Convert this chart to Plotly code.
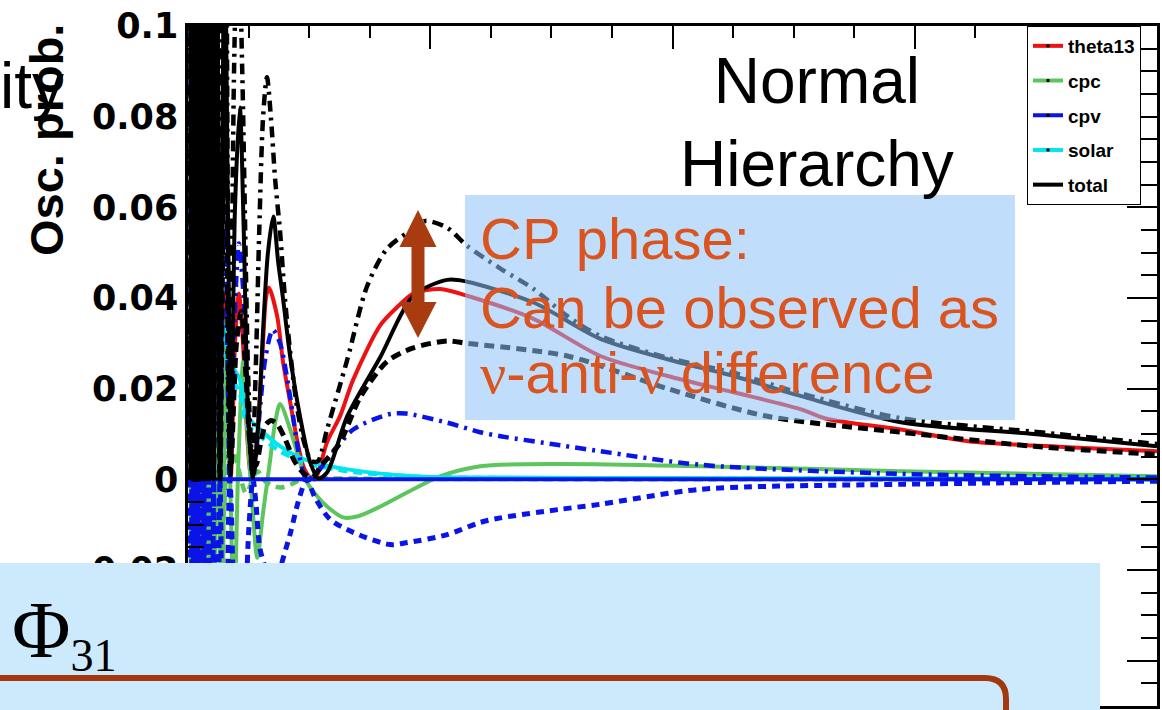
import plotly.graph_objects as go

# ---------------- oscillation-probability components vs. neutrino energy (GeV) ----------------
# theta13 term
theta13_E = [0.005, 0.0065, 0.008, 0.0095, 0.011, 0.0125, 0.014, 0.0155, 0.017, 0.0185,
             0.020, 0.021, 0.022, 0.023, 0.024, 0.025, 0.0265, 0.028, 0.029, 0.031, 0.033, 0.035,
             0.038, 0.041, 0.044, 0.048, 0.053, 0.059, 0.066, 0.076, 0.088, 0.097, 0.105, 0.113,
             0.122, 0.130, 0.138, 0.153, 0.161, 0.167, 0.184, 0.196, 0.211, 0.225, 0.238, 0.252,
             0.262, 0.287, 0.314, 0.341, 0.397, 0.432, 0.465, 0.521, 0.576, 0.713, 0.851, 0.990,
             1.126, 1.264, 1.320, 1.471, 1.610, 1.816, 2.000]
theta13_P = [0.000, 0.040, 0.000, 0.040, 0.000, 0.040, 0.000, 0.040, 0.000, 0.040,
             0.000, 0.039, 0.000, 0.039, 0.000, 0.040, 0.000, 0.040, 0.000, 0.040, 0.000, 0.041,
             0.000, 0.041, 0.000, 0.041, 0.000, 0.041, 0.000, 0.041, 0.000, 0.030, 0.041, 0.031,
             0.010, 0.001, 0.0038, 0.0265, 0.040, 0.0423, 0.036, 0.026, 0.017, 0.0088, 0.0029, 0.0004,
             0.000, 0.0082, 0.014, 0.022, 0.034, 0.038, 0.041, 0.042, 0.0405, 0.0354, 0.0272, 0.0228,
             0.0192, 0.0155, 0.0133, 0.011, 0.0084, 0.0071, 0.0062]

# CP-conserving interference term (cos(delta) = 1 solid, cos(delta) = 0 dashed)
cpc_E = [0.005, 0.0065, 0.008, 0.0095, 0.011, 0.0125, 0.014, 0.0155, 0.017, 0.0185,
         0.020, 0.021, 0.022, 0.023, 0.024, 0.025, 0.0265, 0.028, 0.029, 0.031, 0.033, 0.035,
         0.038, 0.041, 0.044, 0.048, 0.054, 0.061, 0.069, 0.080, 0.087, 0.095, 0.104, 0.114,
         0.124, 0.133, 0.143, 0.155, 0.169, 0.180, 0.190, 0.211, 0.231, 0.246, 0.267, 0.287,
         0.320, 0.349, 0.397, 0.465, 0.521, 0.603, 0.769, 1.058, 1.471, 2.000]
cpc_P = [-0.100, 0.100, -0.100, 0.100, -0.100, 0.100, -0.100, 0.090, -0.090, 0.090,
         -0.080, 0.090, -0.080, 0.080, -0.075, 0.075, -0.070, 0.070, -0.065, 0.065, -0.060, 0.060,
         -0.058, 0.056, -0.054, 0.052, -0.050, 0.046, -0.042, 0.036, 0.000, -0.030, 0.004, 0.026,
         0.008, -0.006, -0.0173, -0.0073, 0.0038, 0.0126, 0.0166, 0.011, 0.0038, -0.0007, -0.0038, -0.006,
         -0.0084, -0.0082, -0.006, -0.0022, 0.0007, 0.0029, 0.0034, 0.0029, 0.0018, 0.0007]
cpc0_E = [0.008, 0.011, 0.014, 0.017,
          0.020, 0.023, 0.026, 0.030, 0.035, 0.040, 0.046, 0.053, 0.062, 0.072, 0.085, 0.100,
          0.120, 0.143, 0.160, 0.190, 0.215, 0.240, 0.300, 0.500, 1.000, 2.000]
cpc0_P = [0.040, -0.040, 0.035, -0.035,
          0.030, -0.030, 0.025, -0.025, 0.020, -0.020, 0.016, -0.014, 0.012, -0.010, 0.008, 0.004,
          -0.003, 0.0018, -0.0005, -0.0018, -0.0010, 0.0003, 0.0002, 0.0001, 0.0000, 0.0000]

# CP-violating term (sin(delta) = -1 dash-dot, +1 dashed, 0 solid)
cpv_up_E = [0.005, 0.0065, 0.008, 0.0095, 0.011, 0.0125, 0.014, 0.0155, 0.017, 0.0185,
            0.020, 0.021, 0.022, 0.023, 0.024, 0.025, 0.0265, 0.028, 0.029, 0.031, 0.033, 0.035,
            0.038, 0.041, 0.044, 0.048, 0.053, 0.059, 0.066, 0.075, 0.086, 0.089, 0.096, 0.105,
            0.115, 0.125, 0.134, 0.140, 0.148, 0.160, 0.175, 0.190, 0.211, 0.230, 0.245, 0.262,
            0.293, 0.341, 0.417, 0.450, 0.535, 0.603, 0.645, 0.769, 0.851, 1.058, 1.471, 2.000]
cpv_up_P = [0.000, 0.300, 0.000, 0.300, 0.000, 0.300, 0.000, 0.280, 0.000, 0.270,
            0.000, 0.250, 0.000, 0.230, 0.000, 0.210, 0.000, 0.190, 0.000, 0.170, 0.000, 0.150,
            0.000, 0.130, 0.000, 0.110, 0.000, 0.090, 0.000, 0.070, 0.000, 0.005, 0.035, 0.052,
            0.040, 0.012, 0.000, 0.005, 0.015, 0.027, 0.033, 0.030, 0.018, 0.005, 0.000, 0.001,
            0.005, 0.011, 0.0144, 0.0145, 0.0125, 0.0104, 0.0095, 0.0075, 0.0062, 0.0032, 0.0012, 0.0004]
cpv_dn_E = cpv_up_E
cpv_dn_P = [0.000, -0.300, 0.000, -0.300, 0.000, -0.300, 0.000, -0.280, 0.000, -0.270,
            0.000, -0.250, 0.000, -0.230, 0.000, -0.210, 0.000, -0.190, 0.000, -0.170, 0.000, -0.150,
            0.000, -0.130, 0.000, -0.110, 0.000, -0.090, 0.000, -0.070, 0.000, -0.005, -0.035, -0.052,
            -0.040, -0.012, 0.000, -0.005, -0.015, -0.020, -0.029, -0.020, -0.012, -0.004, 0.000, -0.004,
            -0.0088, -0.0117, -0.0144, -0.0140, -0.0122, -0.0095, -0.0085, -0.0066, -0.0055, -0.0022, -0.0011, -0.0004]
cpv0_E = [0.0, 2.0]
cpv0_P = [0.0, 0.0]

# solar term (two curves)
solar_E = [0.005, 0.010, 0.015,
           0.020, 0.025, 0.030, 0.036, 0.045, 0.055, 0.068, 0.080, 0.092, 0.107, 0.122, 0.149,
           0.190, 0.225, 0.258, 0.329, 0.465, 0.603, 1.000, 1.500, 2.000]
solar_P = [0.160, 0.140, 0.125,
           0.110, 0.095, 0.080, 0.068, 0.055, 0.045, 0.036, 0.030, 0.025, 0.022, 0.014, 0.011,
           0.0073, 0.0051, 0.0038, 0.0022, 0.0007, 0.0004, 0.0003, 0.0002, 0.0002]
solar2_P = [0.150, 0.130, 0.115,
            0.100, 0.088, 0.074, 0.063, 0.051, 0.041, 0.033, 0.027, 0.022, 0.019, 0.012, 0.0095,
            0.0062, 0.0044, 0.0032, 0.0018, 0.0006, 0.0003, 0.0002, 0.0001, 0.0001]

# total probability (delta = 0 solid, -90 dash-dot, +90 dashed)
total_E = [0.005, 0.0065, 0.008, 0.0095, 0.011, 0.0125, 0.014, 0.0155, 0.017, 0.0185,
           0.020, 0.021, 0.022, 0.023, 0.024, 0.025, 0.0265, 0.028, 0.029, 0.031, 0.033, 0.035,
           0.038, 0.041, 0.044, 0.048, 0.053, 0.059, 0.066, 0.076, 0.088, 0.097, 0.107, 0.115,
           0.124, 0.134, 0.145, 0.155, 0.165, 0.176, 0.186, 0.196, 0.211, 0.231, 0.252, 0.269,
           0.287, 0.329, 0.397, 0.465, 0.535, 0.576, 0.713, 0.851, 0.990, 1.126, 1.264, 1.471,
           1.746, 2.000]
total_P = [0.000, 0.350, 0.000, 0.350, 0.000, 0.340, 0.000, 0.330, 0.000, 0.320,
           0.000, 0.300, 0.000, 0.290, 0.000, 0.280, 0.000, 0.270, 0.000, 0.250, 0.000, 0.240,
           0.000, 0.220, 0.000, 0.200, 0.000, 0.170, 0.000, 0.130, 0.001, 0.060, 0.082, 0.055,
           0.015, 0.0004, 0.012, 0.033, 0.050, 0.058, 0.048, 0.040, 0.027, 0.014, 0.0038, 0.0002,
           0.0015, 0.014, 0.027, 0.0405, 0.044, 0.0436, 0.039, 0.031, 0.0265, 0.0228, 0.0184, 0.0126,
           0.010, 0.0073]
total_up_E = [0.005, 0.0065, 0.008, 0.0095, 0.011, 0.0125, 0.014, 0.0155, 0.017, 0.0185,
              0.020, 0.021, 0.022, 0.023, 0.024, 0.025, 0.0265, 0.028, 0.029, 0.031, 0.033, 0.035,
              0.038, 0.041, 0.044, 0.048, 0.053, 0.059, 0.066, 0.076, 0.086, 0.095, 0.103, 0.112,
              0.125, 0.133, 0.140, 0.147, 0.155, 0.163, 0.171, 0.180, 0.190, 0.200, 0.211, 0.225,
              0.240, 0.255, 0.268, 0.287, 0.329, 0.370, 0.411, 0.465, 0.490, 0.535, 0.576, 0.645,
              0.713, 0.783, 0.851, 0.990, 1.126, 1.264, 1.471, 1.746, 2.000]
total_up_P = [0.010, 0.360, 0.010, 0.360, 0.010, 0.350, 0.010, 0.350, 0.010, 0.340,
              0.010, 0.330, 0.010, 0.320, 0.010, 0.310, 0.010, 0.300, 0.010, 0.290, 0.008, 0.280,
              0.008, 0.260, 0.006, 0.240, 0.006, 0.210, 0.005, 0.170, 0.005, 0.090, 0.125, 0.090,
              0.020, 0.004, 0.025, 0.0546, 0.080, 0.0887, 0.080, 0.066, 0.0546, 0.040, 0.028, 0.016,
              0.008, 0.004, 0.004, 0.011, 0.0265, 0.0427, 0.0509, 0.0553, 0.057, 0.0555, 0.0515, 0.0465,
              0.042, 0.036, 0.0316, 0.0268, 0.0235, 0.019, 0.0135, 0.0105, 0.0078]
total_dn_E = [0.005, 0.0065, 0.008, 0.0095, 0.011, 0.0125, 0.014, 0.0155, 0.017, 0.0185,
              0.020, 0.021, 0.022, 0.023, 0.024, 0.025, 0.0265, 0.028, 0.029, 0.031, 0.033, 0.035,
              0.038, 0.041, 0.044, 0.048, 0.053, 0.059, 0.066, 0.076, 0.088, 0.100, 0.110, 0.120,
              0.130, 0.140, 0.150, 0.160, 0.172, 0.185, 0.200, 0.220, 0.240, 0.256, 0.275, 0.314,
              0.355, 0.411, 0.465, 0.535, 0.576, 0.783, 0.990, 1.196, 1.471, 1.746, 2.000]
total_dn_P = [0.000, 0.280, 0.000, 0.280, 0.000, 0.270, 0.000, 0.270, 0.000, 0.260,
              0.000, 0.260, 0.000, 0.250, 0.000, 0.240, 0.000, 0.230, 0.000, 0.210, 0.000, 0.190,
              0.000, 0.170, 0.000, 0.150, 0.000, 0.120, 0.000, 0.085, 0.002, 0.030, 0.037, 0.022,
              0.006, 0.003, 0.008, 0.012, 0.013, 0.012, 0.009, 0.004, 0.0012, 0.0004, 0.003, 0.0082,
              0.018, 0.026, 0.029, 0.0305, 0.030, 0.0272, 0.020, 0.0139, 0.0104, 0.0073, 0.0055]

legend_names = ["theta13", "cpc", "cpv", "solar", "total"]

# y-axis labels (the -0.04 label sits under the lower panel)
y_tickvals = [-0.04, -0.02, 0.0, 0.02, 0.04, 0.06, 0.08, 0.1]
y_ticktext = ["", "\u22120.02", "0", "0.02", "0.04", "0.06", "0.08", "0.1"]

RED, GREEN, BLUE, CYAN, BLACK = "#ee1111", "#5cc65c", "#0a14e6", "#00e6ec", "#000000"
legend_colors = [RED, GREEN, BLUE, CYAN, BLACK]

# ---------------- canvas geometry (pixels) ----------------
W, H = 1162, 710
ML, MR, MT, MB = 188, 5, 26, 4
PW, PH = W - ML - MR, H - MT - MB


def xp(px):
    return (px - ML) / PW


def yp(py):
    return (H - MB - py) / PH


def path(points, close=True):
    s = "M " + " L ".join(f"{xp(x):.5f},{yp(y):.5f}" for x, y in points)
    return s + (" Z" if close else "")


fig = go.Figure()


def curve(x, y, color, width=4.0, dash="solid"):
    fig.add_trace(go.Scatter(
        x=x, y=y, mode="lines", showlegend=False, hoverinfo="skip",
        line=dict(color=color, width=width, dash=dash, shape="spline", smoothing=0.8),
    ))


DASHDOT = "11px,6px,3px,6px"
curve(theta13_E, theta13_P, RED, 4.0)
curve(cpc_E, cpc_P, GREEN, 4.0)
curve(cpc0_E, cpc0_P, GREEN, 4.5, "9px,6px")
curve(solar_E, solar_P, CYAN, 4.0)
curve(solar_E, solar2_P, CYAN, 4.5, "9px,6px")
curve(cpv_up_E, cpv_up_P, BLUE, 4.5, DASHDOT)
curve(cpv_dn_E, cpv_dn_P, BLUE, 5.0, "8px,6px")
curve(cpv0_E, cpv0_P, BLUE, 4.0)
curve(total_dn_E, total_dn_P, BLACK, 5.0, "10px,6px")
curve(total_up_E, total_up_P, BLACK, 4.5, DASHDOT)
curve(total_E, total_P, BLACK, 4.0)

# legend entries (line sample with a small marker in the middle)
for i, (name, col) in enumerate(zip(legend_names, legend_colors)):
    fig.add_trace(go.Scatter(
        x=[None], y=[None], mode="lines+markers", name=name,
        legendgroup=f"g{i}", line=dict(color=col, width=4),
        marker=dict(color="black", size=3, symbol="square"),
    ))

axis_common = dict(
    showline=True, linecolor="black", linewidth=2.5, mirror="ticks",
    ticks="inside", tickcolor="black", tickwidth=2,
    showgrid=False, zeroline=False,
)

fig.update_xaxes(
    range=[0, 2], tick0=0, dtick=0.5, ticklen=23, showticklabels=False,
    minor=dict(ticks="inside", ticklen=12, tickwidth=2, tickcolor="black", dtick=0.125, tick0=0),
    **axis_common,
)
fig.update_yaxes(
    range=[-0.05, 0.1], tickmode="array", tickvals=y_tickvals, ticktext=y_ticktext, ticklen=30,
    tickfont=dict(family="DejaVu Sans", size=35, color="black", weight="bold"),
    minor=dict(ticks="inside", ticklen=16, tickwidth=2, tickcolor="black", dtick=0.005, tick0=0),
    **axis_common,
)

shapes = [
    # translucent callout behind the CP-phase note
    dict(type="rect", xref="paper", yref="paper", layer="above",
         x0=xp(465), x1=xp(1015), y0=yp(420), y1=yp(195),
         fillcolor="rgba(140,195,250,0.55)", line=dict(width=0)),
    # double-headed arrow marking the CP spread
    dict(type="path", xref="paper", yref="paper", layer="above",
         path=path([(418, 210), (436.5, 247), (424.5, 247), (424.5, 302), (436.5, 302),
                    (418, 338), (399.5, 302), (411.5, 302), (411.5, 247), (399.5, 247)]),
         fillcolor="#a83c10", line=dict(width=0)),
    # lower panel
    dict(type="rect", xref="paper", yref="paper", layer="above",
         x0=xp(-5), x1=xp(1100), y0=yp(715), y1=yp(563),
         fillcolor="#cceafc", line=dict(width=0)),
    dict(type="path", xref="paper", yref="paper", layer="above",
         path=(f"M {xp(-10):.5f},{yp(678):.5f} L {xp(985):.5f},{yp(678):.5f} "
               f"Q {xp(1006):.5f},{yp(678):.5f} {xp(1006):.5f},{yp(699):.5f} "
               f"L {xp(1006):.5f},{yp(725):.5f}"),
         line=dict(color="#a3380f", width=6)),
]

SANS = "Liberation Sans, Arial, sans-serif"
SERIF = "Liberation Serif, Times New Roman, serif"
NU = "<span style=\"font-family:'Liberation Serif'\">ν</span>"
ORANGE = "#d9541e"

annotations = [
    dict(text="Normal<br>Hierarchy", x=xp(817), y=yp(122), xanchor="center", yanchor="middle",
         font=dict(family=SANS, size=64, color="black")),
    dict(text="CP phase:", x=xp(478), y=yp(238), xanchor="left", yanchor="middle",
         font=dict(family=SANS, size=58, color=ORANGE)),
    dict(text="Can be observed as", x=xp(478), y=yp(307), xanchor="left", yanchor="middle",
         font=dict(family=SANS, size=58, color=ORANGE)),
    dict(text=f"{NU}-anti-{NU} difference", x=xp(478), y=yp(373), xanchor="left", yanchor="middle",
         font=dict(family=SANS, size=58, color=ORANGE)),
    dict(text="Φ<span style=\"font-size:66px\"><sub>31</sub></span>",
         x=xp(10), y=yp(633), xanchor="left", yanchor="middle",
         font=dict(family=SERIF, size=80, color="black")),
    dict(text="ity", x=xp(66), y=yp(86), xanchor="right", yanchor="middle",
         font=dict(family=SANS, size=64, color="black")),
    dict(text="Osc. prob.", x=xp(47), y=yp(140), xanchor="center", yanchor="middle",
         textangle=-90, font=dict(family=SANS, size=47, color="black", weight="bold")),
]
for a in annotations:
    a.update(xref="paper", yref="paper", showarrow=False)

fig.update_layout(
    width=W, height=H,
    margin=dict(l=ML, r=MR, t=MT, b=MB, autoexpand=False),
    paper_bgcolor="white", plot_bgcolor="white",
    shapes=shapes, annotations=annotations,
    legend=dict(
        x=xp(1027), y=1.0, xanchor="left", yanchor="top",
        bgcolor="white", bordercolor="black", borderwidth=1,
        font=dict(family=SANS, size=19, color="black", weight="bold"),
        tracegroupgap=7, itemwidth=30,
    ),
)

fig.write_html("out.html")
